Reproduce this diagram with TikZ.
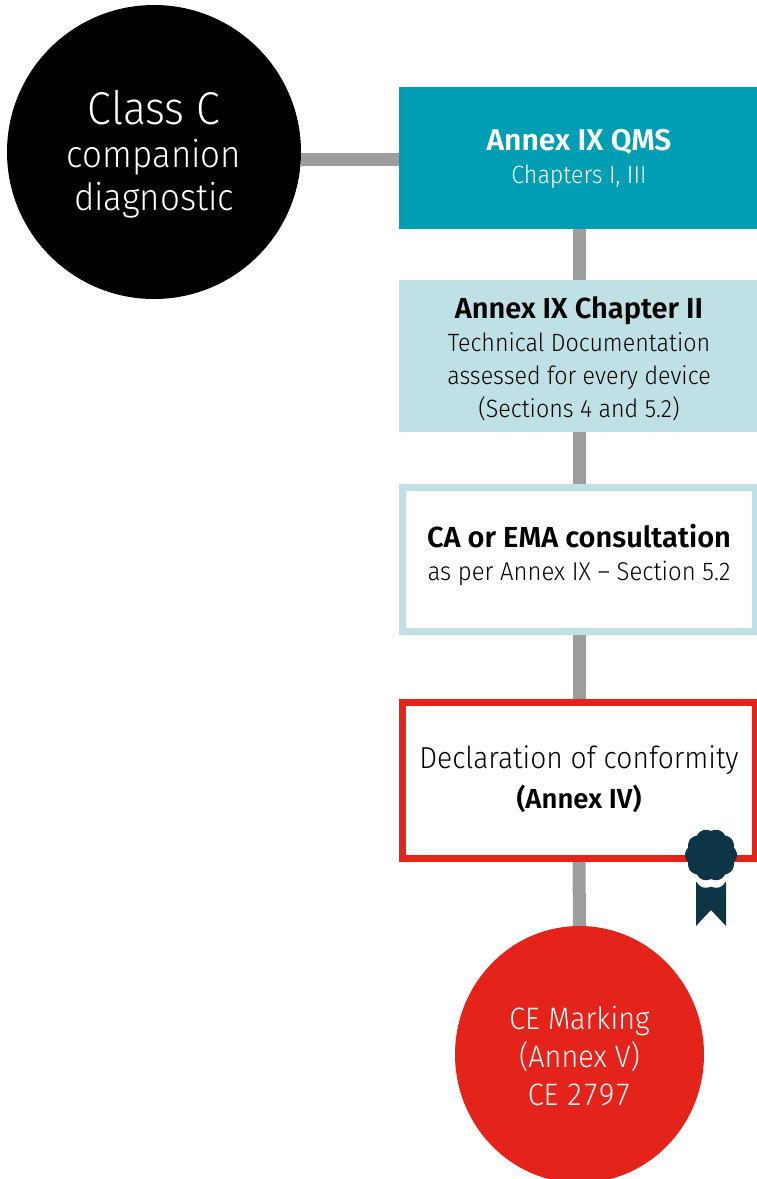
\documentclass[tikz,border=0pt]{standalone}
\usepackage{fontspec}
\setmainfont{Fira Sans Light}[FakeStretch=0.93,BoldFont={Fira Sans SemiBold},BoldFeatures={FakeStretch=1}]
\usetikzlibrary{shapes.geometric}
\definecolor{tealbox}{RGB}{0,158,181}
\definecolor{palebox}{RGB}{191,225,230}
\definecolor{markred}{RGB}{228,35,26}
\definecolor{linkgray}{RGB}{157,157,156}
\definecolor{sealblue}{RGB}{13,53,69}
\tikzset{
    box/.style={minimum width=360pt,minimum height=142pt,inner sep=0pt,align=center,font=\fontsize{25}{33}\selectfont},
    link/.style={draw=linkgray,line width=13pt},
}
\newcommand{\bigline}[1]{{\fontsize{29}{34}\selectfont #1}}
\newcommand{\topgap}[1]{\rule{0pt}{#1}}

\begin{document}
\begin{tikzpicture}[x=1pt,y=-1pt]
    \useasboundingbox (0,0) rectangle (756,1179);

    % Start
    \node[circle,fill=black,text=white,minimum size=294pt,inner sep=0pt,align=center,font=\fontsize{37.5}{43}\selectfont] (classc) at (154,152) {\topgap{38.5pt}{\fontsize{46}{46}\selectfont Class C}\\companion\\diagnostic};

    % Steps
    \node[box,fill=tealbox,text=white] (annexqms) at (579,158) {\topgap{24pt}{\fontsize{30}{34}\selectfont\textbf{Annex IX QMS}}\\Chapters I, III};
    \node[box,fill=palebox,minimum height=152pt] (chaptertwo) at (579,356) {\topgap{26.5pt}\bigline{\textbf{Annex IX Chapter II}}\\Technical Documentation\\assessed for every device\\(Sections 4 and 5.2)};
    \node[box,draw=palebox,line width=7pt,minimum width=353pt,minimum height=144pt] (consultation) at (579,559.5) {\bigline{\textbf{CA or EMA consultation}}\\{\fontsize{25.7}{33}\selectfont as per Annex IX -- Section 5.2}\\[-18pt]\mbox{}};
    \node[box,draw=markred,line width=7pt,minimum width=353pt,minimum height=156pt,font=\fontsize{30.3}{40}\selectfont] (conformity) at (579,780.5) {Declaration of conformity\\{\fontsize{27.5}{40}\selectfont\textbf{(Annex IV)}}\\[-34pt]\mbox{}};

    % End
    \node[ellipse,fill=markred,text=white,minimum width=249pt,minimum height=257pt,inner sep=0pt,align=center,font=\fontsize{31}{38}\selectfont] (cemarking) at (579.5,1054.5) {\topgap{26pt}CE Marking\\(Annex V)\\{\addfontfeature{Numbers=Monospaced}CE 2797}};

    % Connectors
    \draw[link] ([yshift=-1pt]classc.east |- annexqms.west) -- ([yshift=-1pt]annexqms.west);
    \foreach \from/\to in {annexqms/chaptertwo, chaptertwo/consultation, consultation/conformity, conformity/cemarking} {
        \draw[link] (\from.south) -- (\to.north);
    }

    % Seal
    \fill[sealblue] (696,881) -- (726,881) -- (726,926) -- (711,910) -- (696,926) -- cycle;
    \begin{scope}
        \clip (690,870) rectangle (732,895);
        \fill[white,shift={(711,862)}] plot[domain=0:360,samples=200] (\x:{24.5+2*abs(cos(5*\x))}) -- cycle;
    \end{scope}
    \fill[sealblue,shift={(711,855)}] plot[domain=0:360,samples=200] (\x:{24+2*abs(cos(5*\x))}) -- cycle;
\end{tikzpicture}
\end{document}
